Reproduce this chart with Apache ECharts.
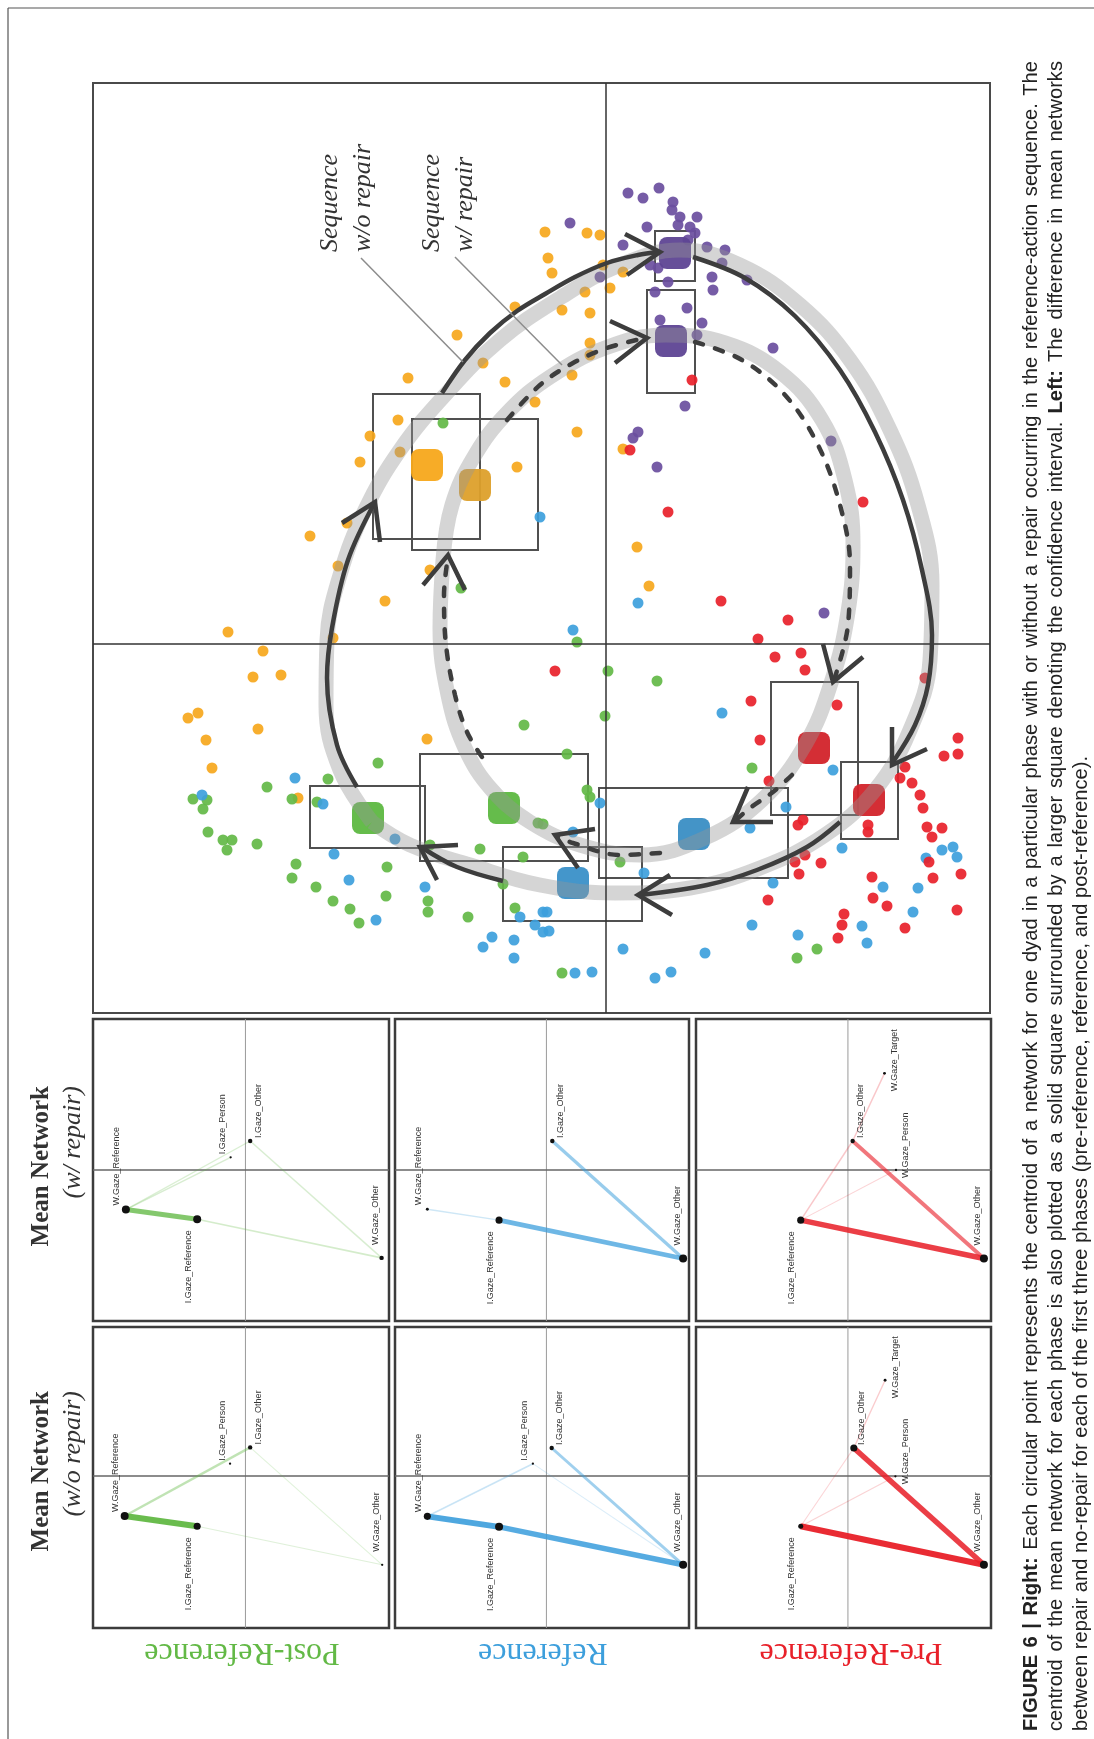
<!DOCTYPE html>
<html>
<head>
<meta charset="utf-8">
<script src="https://cdn.jsdelivr.net/npm/echarts@6/dist/echarts.min.js"></script>
<style>
html, body { margin: 0; padding: 0; background: #fff; }
#main { width: 1094px; height: 1739px; }
</style>
</head>
<body>
<div id="main"></div>
<script>
// ---- right: projected dyad networks (picture units, crosshair at 606 / 644) ----
const orangeDots = [[545,232],[548,258],[515,307],[457,335],[483,363],[408,378],[505,382],[535,402],[398,420],[370,436],[400,452],[360,462],[517,467],[347,523],[310,536],
  [587,233],[600,235],[552,273],[603,265],[623,272],[585,292],[610,288],[562,310],[590,313],[590,343],[590,355],[572,375],[577,432],[623,449],[637,547],
  [338,566],[430,570],[385,601],[228,632],[333,638],[263,651],[253,677],[281,675],[188,718],[198,713],[258,729],[206,740],[427,739],[212,768],[298,798],[649,586]]
const purpleDots = [[628,193],[643,198],[659,188],[673,202],[672,210],[680,217],[697,217],[690,227],[647,227],[570,223],[623,245],[695,233],[707,247],[725,250],
  [722,263],[658,268],[668,282],[712,277],[713,290],[747,280],[600,277],[655,292],[687,308],[660,320],[702,323],[697,335],[773,348],[685,406],[638,432],
  [633,438],[657,467],[831,441],[824,613],[678,225],[688,240],[650,265]]
const greenDots = [[443,423],[461,588],[524,725],[378,763],[328,779],[267,787],[292,799],[193,799],[207,800],[203,809],[208,832],[223,840],[232,840],[227,850],
  [257,844],[317,802],[480,849],[523,857],[538,823],[296,864],[292,878],[316,887],[387,867],[386,896],[333,901],[350,909],[359,923],[428,901],[428,912],
  [468,917],[503,884],[515,908],[430,845],[577,642],[608,671],[657,681],[605,716],[567,754],[752,768],[587,790],[590,797],[543,824],[620,862],[817,949],
  [797,958],[562,973]]
const blueDots = [[540,517],[295,778],[202,795],[323,804],[395,839],[334,854],[349,880],[425,887],[376,920],[520,917],[535,925],[543,912],[492,937],[483,947],
  [514,940],[514,958],[543,932],[638,603],[573,630],[722,713],[600,803],[833,770],[786,807],[750,828],[573,832],[644,873],[842,848],[773,883],[547,912],
  [549,931],[752,925],[798,935],[862,926],[867,943],[883,887],[918,888],[913,912],[926,858],[942,850],[953,847],[957,857],[623,949],[705,953],[655,978],
  [671,972],[575,973],[592,972]]
const redDots = [[692,380],[630,450],[668,512],[863,502],[555,671],[721,601],[788,620],[758,639],[775,657],[801,653],[805,670],[925,678],[751,701],[837,705],
  [760,740],[769,781],[958,738],[944,756],[958,754],[905,767],[900,778],[912,783],[920,795],[923,808],[927,827],[942,828],[932,837],[868,825],[868,832],
  [798,825],[803,820],[805,855],[795,862],[821,863],[799,874],[872,877],[929,862],[933,878],[961,874],[873,898],[887,906],[768,900],[844,914],[842,925],
  [838,938],[905,928],[957,910]]

// centroids & confidence boxes: pre, reference, post, action, post-action
const centroidNoRepair = [[869,800],[573,883],[368,818],[427,465],[675,253]]
const centroidRepair = [[814,748],[694,834],[504,808],[475,485],[671,341]]
const ciNoRepair = [[841,762,898,839],[503,847,642,921],[310,786,425,848],[373,394,480,539],[655,231,695,281]]
const ciRepair = [[771,682,858,815],[599,788,788,878],[420,754,588,861],[412,419,538,550],[647,290,695,393]]

// sequence paths (annotation)
const bandNoRepair = [[372,822],[340,770],[326,705],[327,640],[340,575],[365,510],[400,450],[445,395],[500,340],[560,298],[620,265],[680,250],[740,265],
  [800,305],[850,360],[890,430],[918,505],[932,585],[930,660],[910,730],[875,790],[825,835],[760,868],[690,888],[615,893],[540,885],[470,865],[410,845],[372,822]]
const bandRepair = [[443,560],[452,505],[475,455],[508,412],[550,377],[605,348],[665,335],[725,343],[780,372],[822,420],[845,480],[853,545],[848,612],
  [832,680],[805,745],[762,800],[705,838],[640,855],[580,845],[530,822],[492,790],[465,748],[448,695],[440,628],[443,560]]
const pathNoRepair = [
  [[442,393],[465,360],[490,333],[517,311],[545,294],[575,277],[607,263],[638,255],[658,252]],
  [[693,257],[745,278],[795,316],[840,370],[875,432],[903,500],[922,570],[932,635],[928,685],[915,725],[893,762]],
  [[840,822],[807,847],[757,870],[707,885],[640,895]],
  [[503,881],[457,867],[421,847]],
  [[357,787],[337,745],[327,678],[332,628],[348,560],[375,502]]
]
const pathRepair = [
  [[507,420],[540,385],[573,363],[607,348],[645,338]],
  [[695,342],[742,360],[785,395],[818,445],[840,505],[850,565],[848,625],[834,680]],
  [[792,775],[773,792],[750,808],[735,821]],
  [[660,853],[620,855],[573,843],[557,836]],
  [[482,757],[467,732],[455,695],[446,645],[444,595],[448,557]]
]
const arrowNoRepair = [[[625,234],[660,252],[627,275]],[[892,727],[892,765],[927,749]],[[670,875],[638,895],[672,915]],[[458,845],[420,847],[437,880]],[[342,523],[375,502],[380,542]]]
const arrowRepair = [[[610,321],[647,338],[615,363]],[[823,644],[833,682],[863,657]],[[748,787],[733,822],[773,822]],[[595,829],[555,835],[578,868]],[[423,585],[448,555],[465,590]]]
const leaderLines = [[[361,258],[463,362]],[[455,257],[562,365]]]

// ---- left: mean networks [node, x, y, weight] and [from, to, weight] ----
const postRepairNodes = [['W.Gaze_Reference',0.111,0.631,1],['I.Gaze_Reference',0.352,0.663,1],['I.Gaze_Person',0.465,0.458,0.05],['I.Gaze_Other',0.531,0.404,0.4],['W.Gaze_Other',0.975,0.791,0.4]]
const postRepairLinks = [['W.Gaze_Reference','I.Gaze_Reference',0.75],['W.Gaze_Reference','I.Gaze_Person',0.12],['W.Gaze_Reference','I.Gaze_Other',0.1],['I.Gaze_Other','W.Gaze_Other',0.12],['I.Gaze_Reference','W.Gaze_Other',0.15]]
const refRepairNodes = [['W.Gaze_Reference',0.110,0.630,0.15],['I.Gaze_Reference',0.354,0.666,0.85],['I.Gaze_Other',0.535,0.404,0.4],['W.Gaze_Other',0.980,0.793,1]]
const refRepairLinks = [['W.Gaze_Reference','I.Gaze_Reference',0.12],['I.Gaze_Reference','W.Gaze_Other',0.7],['I.Gaze_Other','W.Gaze_Other',0.45]]
const preRepairNodes = [['I.Gaze_Reference',0.355,0.666,0.85],['I.Gaze_Other',0.531,0.404,0.4],['W.Gaze_Person',0.678,0.500,0.05],['W.Gaze_Target',0.639,0.180,0.15],['W.Gaze_Other',0.976,0.793,1]]
const preRepairLinks = [['I.Gaze_Reference','W.Gaze_Other',0.85],['I.Gaze_Other','W.Gaze_Other',0.55],['I.Gaze_Reference','I.Gaze_Other',0.12],['I.Gaze_Other','W.Gaze_Target',0.12],['I.Gaze_Reference','W.Gaze_Person',0.05]]
const postNoRepairNodes = [['W.Gaze_Reference',0.107,0.628,1],['I.Gaze_Reference',0.352,0.662,0.85],['I.Gaze_Person',0.463,0.454,0.05],['I.Gaze_Other',0.531,0.400,0.4],['W.Gaze_Other',0.977,0.790,0.05]]
const postNoRepairLinks = [['W.Gaze_Reference','I.Gaze_Reference',0.95],['W.Gaze_Reference','I.Gaze_Other',0.3],['I.Gaze_Other','W.Gaze_Other',0.05],['I.Gaze_Reference','W.Gaze_Other',0.07]]
const refNoRepairNodes = [['W.Gaze_Reference',0.110,0.629,0.85],['I.Gaze_Reference',0.354,0.664,1],['I.Gaze_Person',0.469,0.454,0.05],['I.Gaze_Other',0.533,0.402,0.4],['W.Gaze_Other',0.980,0.790,1]]
const refNoRepairLinks = [['W.Gaze_Reference','I.Gaze_Reference',0.9],['I.Gaze_Reference','W.Gaze_Other',0.85],['I.Gaze_Other','W.Gaze_Other',0.4],['W.Gaze_Reference','I.Gaze_Person',0.15],['I.Gaze_Person','W.Gaze_Other',0.04]]
const preNoRepairNodes = [['I.Gaze_Reference',0.355,0.662,0.5],['I.Gaze_Other',0.535,0.402,0.85],['W.Gaze_Person',0.676,0.496,0.05],['W.Gaze_Target',0.641,0.177,0.15],['W.Gaze_Other',0.976,0.790,1]]
const preNoRepairLinks = [['I.Gaze_Reference','W.Gaze_Other',0.95],['I.Gaze_Other','W.Gaze_Other',0.85],['I.Gaze_Reference','I.Gaze_Other',0.05],['I.Gaze_Other','W.Gaze_Target',0.1],['I.Gaze_Reference','W.Gaze_Person',0.06]]

const phaseLabels = ['Post-Reference', 'Reference', 'Pre-Reference']
const netCrossX = 0.515
const netCrossY = [0.5, 0.495]

const captionLines = [
  'FIGURE 6 | Right: Each circular point represents the centroid of a network for one dyad in a particular phase with or without a repair occurring in the reference-action sequence. The',
  'centroid of the mean network for each phase is also plotted as a solid square surrounded by a larger square denoting the confidence interval. Left: The difference in mean networks',
  'between repair and no-repair for each of the first three phases (pre-reference, reference, and post-reference).'
]

const colors = { pre: '#e8212a', ref: '#3d9fdc', post: '#63b946', act: '#f6a71c', postAct: '#6a4e9e' }
const squareNoRepair = ['#d2232a', '#3a90c8', '#5db841', '#f7a81b', '#5e4593']
const squareRepair = ['#d2232a', '#3a8ec4', '#5db841', '#dda02b', '#5e4593']
const darkLine = '#3d3d3d'

const chart = echarts.init(document.getElementById('main'))

const grids = [{ left: 93, top: 83, width: 897, height: 930, show: true, borderColor: '#4a4a4a', borderWidth: 2 }]
const xAxes = [{ gridIndex: 0, type: 'value', min: 93, max: 990, show: false }]
const yAxes = [{ gridIndex: 0, type: 'value', min: 83, max: 1013, inverse: true, show: false }]
const series = []

// dots
const dotSets = [[orangeDots, colors.act], [greenDots, colors.post], [blueDots, colors.ref], [redDots, colors.pre], [purpleDots, colors.postAct]]
dotSets.forEach(([pts, c], i) => {
  const s = {
    type: 'scatter', xAxisIndex: 0, yAxisIndex: 0, z: 2, silent: true,
    symbolSize: 11, itemStyle: { color: c, opacity: 0.92 }, data: pts
  }
  if (i === 0) {
    s.markLine = {
      silent: true, symbol: ['none', 'none'], label: { show: false },
      lineStyle: { color: '#333', width: 1.5, type: 'solid' },
      data: [{ xAxis: 606 }, { yAxis: 644 }]
    }
  }
  series.push(s)
})

// centroid squares with confidence boxes
;[[centroidNoRepair, ciNoRepair, squareNoRepair], [centroidRepair, ciRepair, squareRepair]].forEach(([cs, ci, cols]) => {
  series.push({
    type: 'scatter', xAxisIndex: 0, yAxisIndex: 0, z: 3, silent: true,
    symbol: 'roundRect', symbolSize: 32,
    data: cs.map((p, i) => ({ value: p, itemStyle: { color: cols[i], opacity: 0.95 } })),
    markArea: {
      silent: true,
      itemStyle: { color: 'rgba(0,0,0,0)', borderColor: '#505050', borderWidth: 2 },
      data: ci.map(b => [{ coord: [b[0], b[1]] }, { coord: [b[2], b[3]] }])
    }
  })
})

function pathSeries (pts, style, z, smooth, gi) {
  return {
    type: 'line', xAxisIndex: gi || 0, yAxisIndex: gi || 0, z: z, silent: true,
    symbol: 'none', smooth: smooth, data: pts, lineStyle: style
  }
}
series.push(pathSeries(bandNoRepair, { color: 'rgba(150,150,150,0.4)', width: 15 }, 4, 0.4))
series.push(pathSeries(bandRepair, { color: 'rgba(150,150,150,0.4)', width: 15 }, 4, 0.4))
pathNoRepair.forEach(p => series.push(pathSeries(p, { color: darkLine, width: 4.5 }, 5, 0.35)))
pathRepair.forEach(p => series.push(pathSeries(p, { color: darkLine, width: 4.5, type: [8.5, 12.5], cap: 'round' }, 5, 0.35)))
arrowNoRepair.concat(arrowRepair).forEach(p => series.push(pathSeries(p, { color: darkLine, width: 4.5, join: 'miter' }, 6, false)))
leaderLines.forEach(p => series.push(pathSeries(p, { color: '#8c8c8c', width: 1.5 }, 6, false)))

// ---- mean network panels ----
const panelCols = [{ left: 93, width: 296 }, { left: 395, width: 294 }, { left: 696, width: 295 }]
const panelRows = [{ top: 1019, height: 302 }, { top: 1327, height: 301 }]
const colColors = [colors.post, colors.ref, colors.pre]
const netPanels = [
  [postRepairNodes, postRepairLinks, 0, 0], [refRepairNodes, refRepairLinks, 1, 0], [preRepairNodes, preRepairLinks, 2, 0],
  [postNoRepairNodes, postNoRepairLinks, 0, 1], [refNoRepairNodes, refNoRepairLinks, 1, 1], [preNoRepairNodes, preNoRepairLinks, 2, 1]
]
const labelPlace = {
  'W.Gaze_Reference': { dir: 'up', gap: 4, side: -9 },
  'I.Gaze_Reference': { dir: 'down', gap: 11, side: -9 },
  'I.Gaze_Person': { dir: 'up', gap: 3, side: -8 },
  'I.Gaze_Other': { dir: 'up', gap: 3, side: 8 },
  'W.Gaze_Other': { dir: 'up', gap: 13, side: -6 },
  'W.Gaze_Person': { dir: 'up', gap: -8, side: 10 },
  'W.Gaze_Target': { dir: 'up', gap: -18, side: 10 }
}

netPanels.forEach(([nodes, links, col, row], k) => {
  const gi = k + 1
  grids.push({
    left: panelCols[col].left, width: panelCols[col].width, top: panelRows[row].top, height: panelRows[row].height,
    show: true, borderColor: '#3c3c3c', borderWidth: 2.5
  })
  xAxes.push({ gridIndex: gi, type: 'value', min: 0, max: 1, show: false })
  yAxes.push({ gridIndex: gi, type: 'value', min: 0, max: 1, inverse: true, show: false })
  series.push(pathSeries([[netCrossX, 0], [netCrossX, 1]], { color: '#9a9a9a', width: 1 }, 1, false, gi))
  series.push(pathSeries([[0, netCrossY[row]], [1, netCrossY[row]]], { color: '#666', width: 1.3 }, 1, false, gi))
  const c = colColors[col]
  series.push({
    type: 'graph', coordinateSystem: 'cartesian2d', xAxisIndex: gi, yAxisIndex: gi, z: 3,
    silent: true, emphasis: { disabled: true },
    itemStyle: { color: '#111' },
    data: nodes.map(([name, x, y, w]) => {
      const lp = labelPlace[name]
      return {
        name: name, value: [x, y], symbolSize: 2 + 6 * w,
        label: {
          show: true, position: 'inside', rotate: 90,
          align: lp.dir === 'up' ? 'left' : 'right', verticalAlign: 'middle',
          offset: lp.dir === 'up' ? [lp.gap, lp.side] : [-lp.gap, lp.side],
          fontSize: 9, color: '#333', fontFamily: 'Liberation Sans'
        }
      }
    }),
    links: links.map(([a, b, w]) => ({
      source: a, target: b,
      lineStyle: { color: c, width: 0.8 + 5.5 * w, opacity: 0.15 + 0.85 * w, curveness: 0 }
    }))
  })
})

// ---- texts ----
const measureCtx = document.createElement('canvas').getContext('2d')
function textWidth (str, font) { measureCtx.font = font; return measureCtx.measureText(str).width }

function rotText (text, x, y, rot, align, opts) {
  return {
    type: 'text', x: x, y: y, rotation: rot, silent: true, z: 100,
    style: Object.assign({
      text: text, align: align, textAlign: align, verticalAlign: 'middle', textVerticalAlign: 'middle', fill: '#222'
    }, opts)
  }
}

const graphics = [
  { type: 'line', silent: true, shape: { x1: 8, y1: 8, x2: 1094, y2: 8 }, style: { stroke: '#555', lineWidth: 1.2 } },
  { type: 'line', silent: true, shape: { x1: 8, y1: 8, x2: 8, y2: 1739 }, style: { stroke: '#555', lineWidth: 1.2 } }
]
const serif = 'Liberation Serif'
// column headers
;[[1086, '(w/ repair)'], [1391, '(w/o repair)']].forEach(([yTop, sub]) => {
  graphics.push(rotText('Mean Network', 42, yTop, Math.PI / 2, 'right', { fontFamily: serif, fontWeight: 'bold', fontSize: 25, fill: '#333' }))
  graphics.push(rotText(sub, 73, yTop, Math.PI / 2, 'right', { fontFamily: serif, fontStyle: 'italic', fontSize: 26, fill: '#333' }))
})
// row labels
const rowLabelX = [242, 543, 851]
phaseLabels.forEach((t, i) => {
  graphics.push(rotText(t, rowLabelX[i], 1652, Math.PI, 'center', { fontFamily: serif, fontSize: 32, fill: colColors[i] }))
})
// sequence annotations
;[[330, 'Sequence'], [363, 'w/o repair'], [432, 'Sequence'], [465, 'w/ repair']].forEach(([x, t]) => {
  graphics.push(rotText(t, x, 252, Math.PI / 2, 'left', { fontFamily: serif, fontStyle: 'italic', fontSize: 26, fill: '#333' }))
})
// caption, justified lines
const capFamily = '"Liberation Sans", sans-serif'
const capSize = 976 * 100 / textWidth(captionLines[2], '100px ' + capFamily)
const capX = [1031, 1056, 1081]
const capStart = 1731
const capEnd = 61
captionLines.forEach((line, li) => {
  const words = line.split(' ')
  const fonts = words.map((w, wi) => {
    const bold = (li === 0 && wi < 4) || (li === 1 && w === 'Left:')
    return (bold ? 'bold ' : '') + capSize + 'px ' + capFamily
  })
  const widths = words.map((w, wi) => textWidth(w, fonts[wi]))
  let gapW = textWidth(' ', capSize + 'px ' + capFamily)
  if (li < 2) {
    const total = widths.reduce((a, b) => a + b, 0)
    gapW = (capStart - capEnd - total) / (words.length - 1)
  }
  let pos = capStart
  words.forEach((w, wi) => {
    graphics.push(rotText(w, capX[li], pos, Math.PI / 2, 'left', {
      fontFamily: 'Liberation Sans', fontSize: capSize, fontWeight: fonts[wi].startsWith('bold') ? 'bold' : 'normal', fill: '#222'
    }))
    pos -= widths[wi] + gapW
  })
})

chart.setOption({
  animation: false,
  backgroundColor: '#fff',
  grid: grids,
  xAxis: xAxes,
  yAxis: yAxes,
  series: series,
  graphic: { elements: graphics }
})
</script>
</body>
</html>
